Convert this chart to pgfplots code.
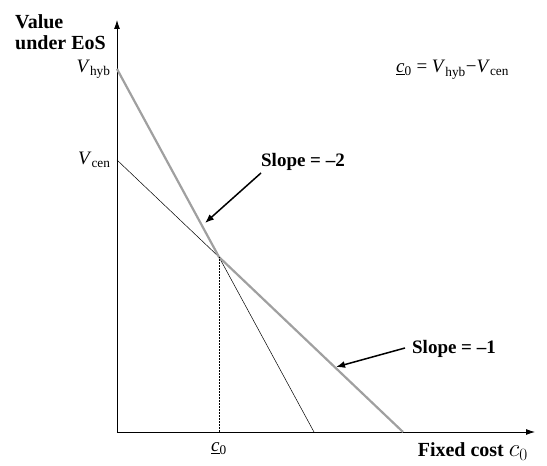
\documentclass[border=0pt]{standalone}
\usepackage{fontspec}
\setmainfont{Liberation Serif}
\usepackage{pgfplots}
\pgfplotsset{compat=1.18}
\usetikzlibrary{arrows.meta}
\definecolor{lgray}{RGB}{160,160,160}
\newcommand{\lbl}{\fontsize{19}{22}\selectfont}
\begin{document}
\begin{tikzpicture}
\begin{axis}[
    width=418pt, height=412pt, scale only axis,
    xmin=0, xmax=418, ymin=0, ymax=412,
    axis lines=left,
    axis line style={line width=0.8pt, -{Latex[length=9pt,width=6pt]}},
    clip=false,
    /pgf/number format/assume math mode=true,
    xtick={102}, xticklabels={\underline{\textit{c}}\textsubscript{0}},
    ytick={363,272}, yticklabels={\textit{V}\textsubscript{hyb}, \textit{V}\textsubscript{cen}},
    major tick length=0pt,
    tick label style={font=\lbl},
    xticklabel style={yshift=-7pt},
    yticklabel style={xshift=-3pt, yshift=0pt},
]
% cost lines
\addplot[black, line width=0.5pt] coordinates {(0,272) (286,0)};
\addplot[black, line width=0.5pt] coordinates {(0,363) (197,0)};
% upper envelope
\addplot[lgray, line width=2.2pt] coordinates {(0,363) (102,175) (286,0)};
% threshold
\addplot[black, densely dotted, line width=0.5pt] coordinates {(102,0) (102,175)};

\draw[line width=1.5pt, -{Latex[length=9pt,width=7pt]}] (axis cs:144,259) -- (axis cs:88,209);
\draw[line width=1.5pt, -{Latex[length=9pt,width=7pt]}] (axis cs:288,84) -- (axis cs:219,65);
\node[font=\lbl\bfseries] at (axis cs:186,270) {Slope = –2};
\node[font=\lbl\bfseries] at (axis cs:337,83) {Slope = –1};
\node[font=\fontsize{20}{21}\selectfont\bfseries, anchor=north west, align=left, inner sep=0pt] at (axis cs:-102,418) {Value\\under EoS};
\node[font=\fontsize{20}{22}\selectfont\bfseries, anchor=base east, inner sep=0pt] at (axis cs:411,-25) {Fixed cost \fontsize{26}{26}\selectfont$c_0$};
\node[font=\lbl, anchor=base west, inner sep=0pt] at (axis cs:279,359)
    {\underline{\textit{c}}\textsubscript{0} = \textit{V}\textsubscript{hyb}−\textit{V}\textsubscript{cen}};
\path (axis cs:-117,-34) rectangle (axis cs:430,432);
\end{axis}
\end{tikzpicture}
\end{document}
